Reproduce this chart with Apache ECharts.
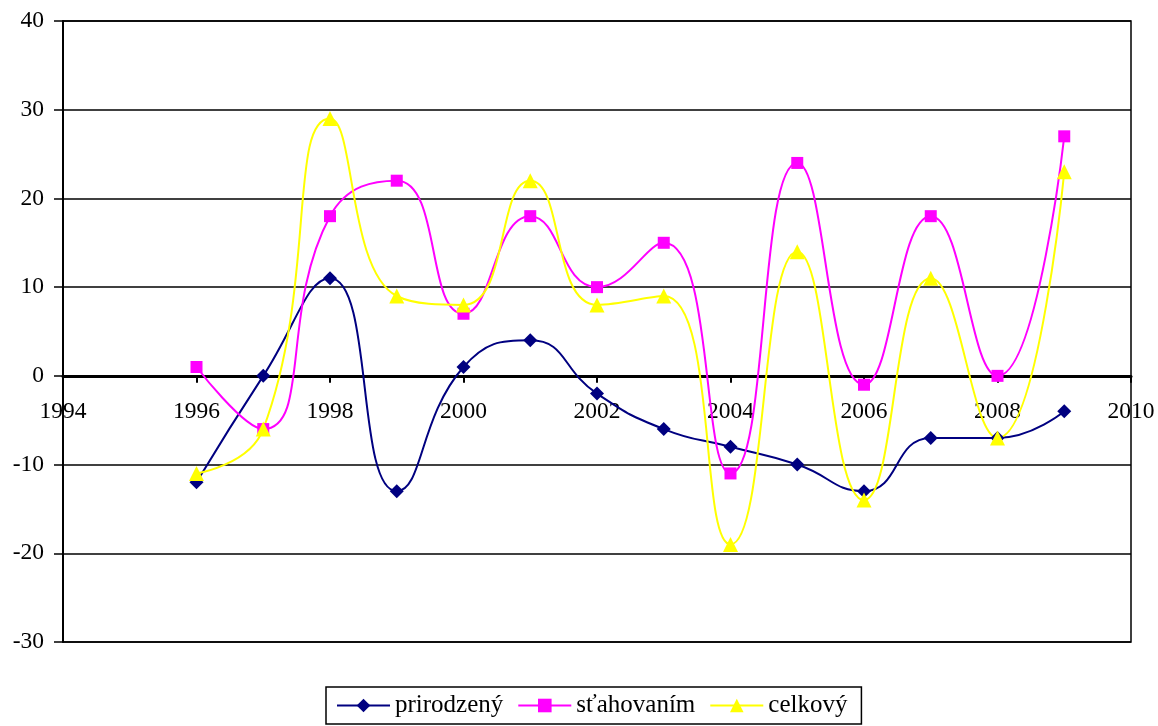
<!DOCTYPE html>
<html>
<head>
<meta charset="utf-8">
<script src="https://cdn.jsdelivr.net/npm/echarts@6/dist/echarts.min.js"></script>
<style>
html,body{margin:0;padding:0;background:#fff;}
#chart{width:1158px;height:726px;}
</style>
</head>
<body>
<div id="chart"></div>
<script>
const years = [1996, 1997, 1998, 1999, 2000, 2001, 2002, 2003, 2004, 2005, 2006, 2007, 2008, 2009];
const seriesNames = ['prirodzený', 'sťahovaním', 'celkový'];
const prirodzeny = [-12, 0, 11, -13, 1, 4, -2, -6, -8, -10, -13, -7, -7, -4];
const stahovanim = [1, -6, 18, 22, 7, 18, 10, 15, -11, 24, -1, 18, 0, 27];
const celkovy = [-11, -6, 29, 9, 8, 22, 8, 9, -19, 14, -14, 11, -7, 23];
const yMin = -30, yMax = 40, yStep = 10;
const xMin = 1994, xMax = 2010, xStep = 2;

const pairs = vals => years.map((y, i) => [y, vals[i]]);
const font = '"Liberation Serif", "Times New Roman", serif';

const W = 1158, H = 726;
const gTop = 21, gBottom = 84, gLeft = 63, gRight = 27;
const gHeight = H - gTop - gBottom;
const zeroOffset = -gHeight * (0 - yMin) / (yMax - yMin);

const chart = echarts.init(document.getElementById('chart'));
chart.setOption({
  animation: false,
  backgroundColor: '#ffffff',
  grid: {
    left: gLeft, right: gRight, top: gTop, bottom: gBottom,
    show: true, borderColor: '#000', borderWidth: 1.5, backgroundColor: 'transparent'
  },
  legend: {
    bottom: 2,
    left: 326,
    padding: [6, 14, 6, 10],
    borderColor: '#000',
    borderWidth: 1.5,
    itemWidth: 53,
    itemHeight: 17,
    itemGap: 14,
    textStyle: { fontFamily: font, fontSize: 25, color: '#000' },
    data: seriesNames
  },
  xAxis: {
    type: 'value',
    min: xMin, max: xMax, interval: xStep,
    position: 'bottom',
    offset: zeroOffset,
    axisLine: { onZero: false, lineStyle: { color: '#000', width: 3 } },
    axisTick: { show: true, length: 7, lineStyle: { color: '#000', width: 2 } },
    axisLabel: { fontFamily: font, fontSize: 23.5, color: '#000', margin: 24, formatter: v => String(v) },
    splitLine: { show: false }
  },
  yAxis: {
    type: 'value',
    min: yMin, max: yMax, interval: yStep,
    axisLine: { show: true, lineStyle: { color: '#000', width: 2 } },
    axisTick: { show: true, length: 9, lineStyle: { color: '#000', width: 1.5 } },
    axisLabel: { fontFamily: font, fontSize: 23.5, color: '#000', margin: 19 },
    splitLine: { show: true, lineStyle: { color: '#000', width: 1.5 } }
  },
  series: [
    {
      name: seriesNames[0], type: 'line', smooth: 0.5,
      data: pairs(prirodzeny),
      symbol: 'diamond', symbolSize: 14,
      itemStyle: { color: '#000080' },
      lineStyle: { color: '#000080', width: 2 }
    },
    {
      name: seriesNames[1], type: 'line', smooth: 0.5,
      data: pairs(stahovanim),
      symbol: 'rect', symbolSize: 12,
      itemStyle: { color: '#ff00ff' },
      lineStyle: { color: '#ff00ff', width: 2 }
    },
    {
      name: seriesNames[2], type: 'line', smooth: 0.5,
      data: pairs(celkovy),
      symbol: 'triangle', symbolSize: 15,
      itemStyle: { color: '#ffff00' },
      lineStyle: { color: '#ffff00', width: 2 }
    }
  ]
});
</script>
</body>
</html>
